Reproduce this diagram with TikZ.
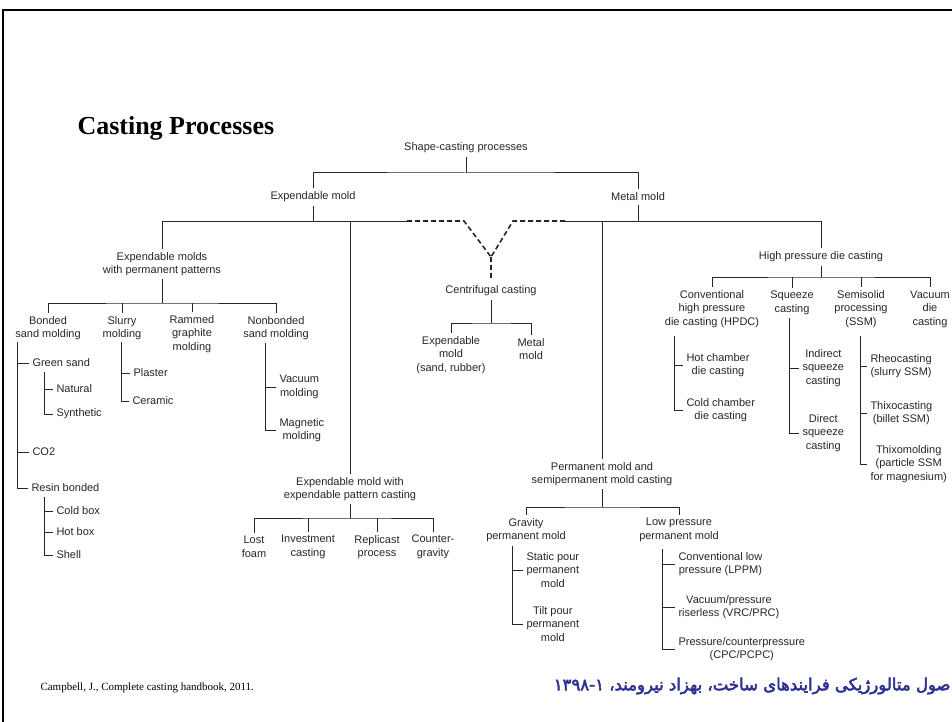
\documentclass[tikz,border=0pt]{standalone}
\usepackage{fontspec}
\setmainfont{Liberation Sans}
\newfontfamily\rmserif{Liberation Serif}
\newfontfamily\arabicfont[Script=Arabic,FakeBold=3]{DejaVu Sans}
\TeXXeTstate=1
\definecolor{ink}{HTML}{262626}
\definecolor{faBlue}{HTML}{2E3192}

\begin{document}
\begin{tikzpicture}[x=1pt,y=-1pt,line width=1pt,color=ink,font=\fontsize{11}{13.5}\selectfont,
  lbl/.style={align=center,inner sep=3pt},
  lst/.style={align=center,inner sep=3pt,anchor=west},
  dashline/.style={dash pattern=on 5pt off 3pt,line width=1.6pt}]
\useasboundingbox (0,0) rectangle (952,722);
\draw[line width=2pt,black] (3,722)--(3,10)--(952,10);
\node[anchor=west,inner sep=0pt,black,font=\rmserif\bfseries\fontsize{26}{30}\selectfont] (title) at (77,128) {Casting Processes};

\node[lbl] (shape) at (466,148) {Shape-casting processes};
\node[lbl] (expm) at (313,197) {Expendable mold};\node[lbl] (metal) at (638,197) {Metal mold};
\coordinate (sb) at (466,173);\coordinate (bus2l) at (407,221);\coordinate (bus2r) at (565,221);\coordinate (ymid) at (491,257);

\node[lbl] (ep) at (162,264) {Expendable molds\\with permanent patterns};
\node[lbl] (bonded) at (48,328) {Bonded\\sand molding};\node[lbl] (slurry) at (122,328) {Slurry\\molding};
\node[lbl] (rammed) at (192,334) {Rammed\\graphite\\molding};\node[lbl] (nonb) at (276,328) {Nonbonded\\sand molding};
\node[lst] (green) at (29,363) {Green sand};\node[lst] (nat) at (53,389) {Natural};\node[lst] (synth) at (53,414) {Synthetic};
\node[lst] (co2) at (29,452) {CO2};\node[lst] (resin) at (28,488) {Resin bonded};
\node[lst] (cold) at (53,511) {Cold box};\node[lst] (hot) at (53,532) {Hot box};\node[lst] (shell) at (53,555) {Shell};
\node[lst] (plaster) at (130,373) {Plaster};\node[lst] (ceramic) at (129,401) {Ceramic};
\node[lst] (vacm) at (276,387) {Vacuum\\molding};\node[lst] (magm) at (276,430) {Magnetic\\molding};
\coordinate (epb) at (162,303);\coordinate (bt) at (17,342);\coordinate (gt) at (44,372);\coordinate (rt) at (44,497);
\coordinate (st) at (121,342);\coordinate (nt) at (265,343);

\node[lbl] (ee) at (350,489) {Expendable mold with\\expendable pattern casting};
\node[lbl] (lost) at (254,547) {Lost\\foam};\node[lbl] (invest) at (308,547) {Investment\\casting};
\node[lbl] (repl) at (377,547) {Replicast\\process};\node[lbl] (counter) at (433,547) {Counter-\\gravity};
\coordinate (eeb) at (350,518);

\node[lbl] (centr) at (491,291) {Centrifugal casting};
\node[lbl] (cexp) at (451,355) {Expendable\\mold\\(sand, rubber)};\node[lbl] (cmet) at (531,349) {Metal\\mold};
\coordinate (cb) at (491,323);

\node[lbl] (pm) at (602,474) {Permanent mold and\\semipermanent mold casting};
\node[lbl] (grav) at (526,530) {Gravity\\permanent mold};\node[lbl] (lowp) at (679,530) {Low pressure\\permanent mold};
\node[lst] (static) at (523,570) {Static pour\\permanent\\mold};\node[lst] (tilt) at (523,624) {Tilt pour\\permanent\\mold};
\node[lst] (conv) at (675,564) {Conventional low\\pressure (LPPM)};\node[lst] (vacp) at (675,607) {Vacuum/pressure\\riserless (VRC/PRC)};
\node[lst] (press) at (675,649) {Pressure/counterpressure\\(CPC/PCPC)};
\coordinate (pmb) at (602,507);\coordinate (gvt) at (512,546);\coordinate (lpt) at (662,549);

\node[lbl] (hp) at (821,257) {High pressure die casting};
\node[lbl] (hpdc) at (712,309) {Conventional\\high pressure\\die casting (HPDC)};\node[lbl] (sq) at (792,303) {Squeeze\\casting};
\node[lbl] (semi) at (861,309) {Semisolid\\processing\\(SSM)};\node[lbl] (vac) at (930,309) {Vacuum\\die\\casting};
\node[lst] (hotch) at (683,365) {Hot chamber\\die casting};\node[lst] (coldch) at (683,410) {Cold chamber\\die casting};
\node[lst] (indir) at (799,368) {Indirect\\squeeze\\casting};\node[lst] (direct) at (799,433) {Direct\\squeeze\\casting};
\node[lst] (rheo) at (867,366) {Rheocasting\\(slurry SSM)};\node[lst] (thixc) at (867,413) {Thixocasting\\(billet SSM)};
\node[lst] (thixm) at (867,464) {Thixomolding\\(particle SSM\\for magnesium)};
\coordinate (hpb) at (821,277);\coordinate (ht) at (674,336);\coordinate (qt) at (789,318);\coordinate (mt) at (860,336);

\draw (shape.south)--(sb);\draw (expm.north)|-(sb)-|(metal.north);
\draw (expm.south)--(expm.south|-bus2l);\draw (ep.north)|-(bus2l);\draw (ee.north)--(ee.north|-bus2l);
\draw (metal.south)--(metal.south|-bus2r);\draw (bus2r)-|(hp.north);\draw (pm.north)--(pm.north|-bus2r);
\draw[dashline] (bus2l)--++(57,0)--(ymid);\draw[dashline] (bus2r)--++(-52,0)--(ymid);
\draw[dashline,shorten >=4pt] (ymid)--(centr.north);

\draw (ep.south)--(epb);\draw (bonded.north)|-(epb)-|(nonb.north);
\draw (slurry.north)--(slurry.north|-epb);\draw (rammed.north)--(rammed.north|-epb);
\draw (bt)|-(resin.west);\draw (bt|-green.west)--(green.west);\draw (bt|-co2.west)--(co2.west);
\draw (gt)|-(synth.west);\draw (gt|-nat.west)--(nat.west);
\draw (rt)|-(shell.west);\draw (rt|-cold.west)--(cold.west);\draw (rt|-hot.west)--(hot.west);
\draw (st)|-(ceramic.west);\draw (st|-plaster.west)--(plaster.west);
\draw (nt)|-(magm.west);\draw (nt|-vacm.west)--(vacm.west);

\draw (ee.south)--(eeb);\draw (lost.north)|-(eeb)-|(counter.north);
\draw (invest.north)--(invest.north|-eeb);\draw (repl.north)--(repl.north|-eeb);

\draw (centr.south)--(cb);\draw (cexp.north)|-(cb)-|(cmet.north);

\draw (pm.south)--(pmb);\draw (grav.north)|-(pmb)-|(lowp.north);
\draw (gvt)|-(tilt.west);\draw (gvt|-static.west)--(static.west);
\draw (lpt)|-(press.west);\draw (lpt|-conv.west)--(conv.west);\draw (lpt|-vacp.west)--(vacp.west);

\draw (hp.south)--(hpb);\draw (hpdc.north)|-(hpb)-|(vac.north);
\draw (sq.north)--(sq.north|-hpb);\draw (semi.north)--(semi.north|-hpb);
\draw (ht)|-(coldch.west);\draw (ht|-hotch.west)--(hotch.west);
\draw (qt)|-(direct.west);\draw (qt|-indir.west)--(indir.west);
\draw (mt)|-(thixm.west);\draw (mt|-rheo.west)--(rheo.west);\draw (mt|-thixc.west)--(thixc.west);

\node[anchor=west,inner sep=0pt,black,font=\rmserif\fontsize{11}{13}\selectfont] (cite) at (40,688) {Campbell, J., Complete casting handbook, 2011.};
\node[anchor=east,inner sep=0pt,text=faBlue,font=\arabicfont\fontsize{16.5}{19}\selectfont] (src) at (951,686) {\beginR صول متالورژیکی فرایندهای ساخت، بهزاد نیرومند، \beginL۱۳۹۸-۱\endL{}\endR};
\end{tikzpicture}
\end{document}
